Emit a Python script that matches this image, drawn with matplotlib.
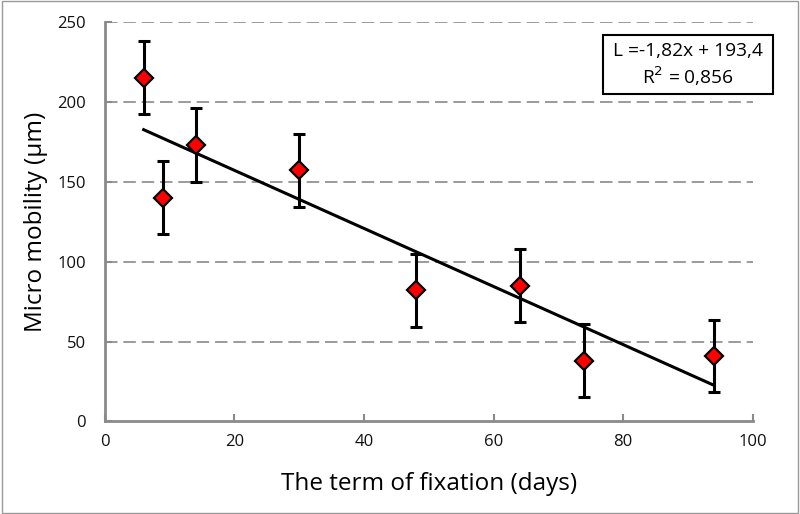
import matplotlib
matplotlib.use("Agg")
import matplotlib.pyplot as plt
import numpy as np
from matplotlib.patches import Rectangle

plt.rcParams['font.family'] = ['Open Sans', 'DejaVu Sans']

days = [6, 9, 14, 30, 48, 64, 74, 94]
mobility = [215, 140, 173, 157, 82, 85, 38, 41]
errors = [23, 23, 23, 23, 23, 23, 23, 22.5]
x_ticks = [0, 20, 40, 60, 80, 100]
y_ticks = [0, 50, 100, 150, 200, 250]
equation_text = "L =-1,82x + 193,4\nR$^2$ = 0,856"

fig = plt.figure(figsize=(8, 5.14), dpi=100)
ax = fig.add_axes([0.131, 0.180, 0.810, 0.778])

grey = '#8a8a8a'
for yv in y_ticks[1:]:
    ax.axhline(yv, color=grey, lw=1.2, ls=(0, (7.5, 3.5)), zorder=0)

slope, intercept = np.polyfit(days, mobility, 1)
xf = np.array([min(days), max(days)])
ax.plot(xf, slope * xf + intercept, color='black', lw=2.2, zorder=2)

ax.errorbar(days, mobility, yerr=errors, fmt='none', ecolor='black',
            elinewidth=2.2, capsize=4, capthick=2.2, zorder=3)
ax.plot(days, mobility, 'D', color='#ff0000', markeredgecolor='black',
        markeredgewidth=1.6, markersize=8.8, zorder=4)

ax.set_xlim(0, 100)
ax.set_ylim(0, 250)
ax.set_xticks(x_ticks)
ax.set_yticks(y_ticks)
for s in ['top', 'right']:
    ax.spines[s].set_visible(False)
for s in ['left', 'bottom']:
    ax.spines[s].set_color(grey)
    ax.spines[s].set_linewidth(2)
ax.tick_params(direction='in', length=5, width=1.5, color=grey,
               labelsize=12, labelcolor='#111111')
ax.tick_params(axis='y', pad=13.5)
ax.tick_params(axis='x', pad=9)
ax.set_xlabel("The term of fixation (days)", fontsize=17.5, labelpad=16)
ax.set_ylabel("Micro mobility (µm)", fontsize=17.5, labelpad=7)

# equation box
fig.patches.append(Rectangle((603 / 800, 1 - 93.5 / 514), 170 / 800, 58.5 / 514,
                             transform=fig.transFigure, fill=False,
                             edgecolor='black', lw=1.5))
fig.text(688 / 800, 1 - 65 / 514, equation_text, ha='center', va='center',
         fontsize=13.8, linespacing=1.25)

# figure border
fig.patches.append(Rectangle((0.002, 0.002), 0.996, 0.996, transform=fig.transFigure,
                             fill=False, edgecolor='#999999', lw=1))

fig.savefig("out.png", dpi=100)
